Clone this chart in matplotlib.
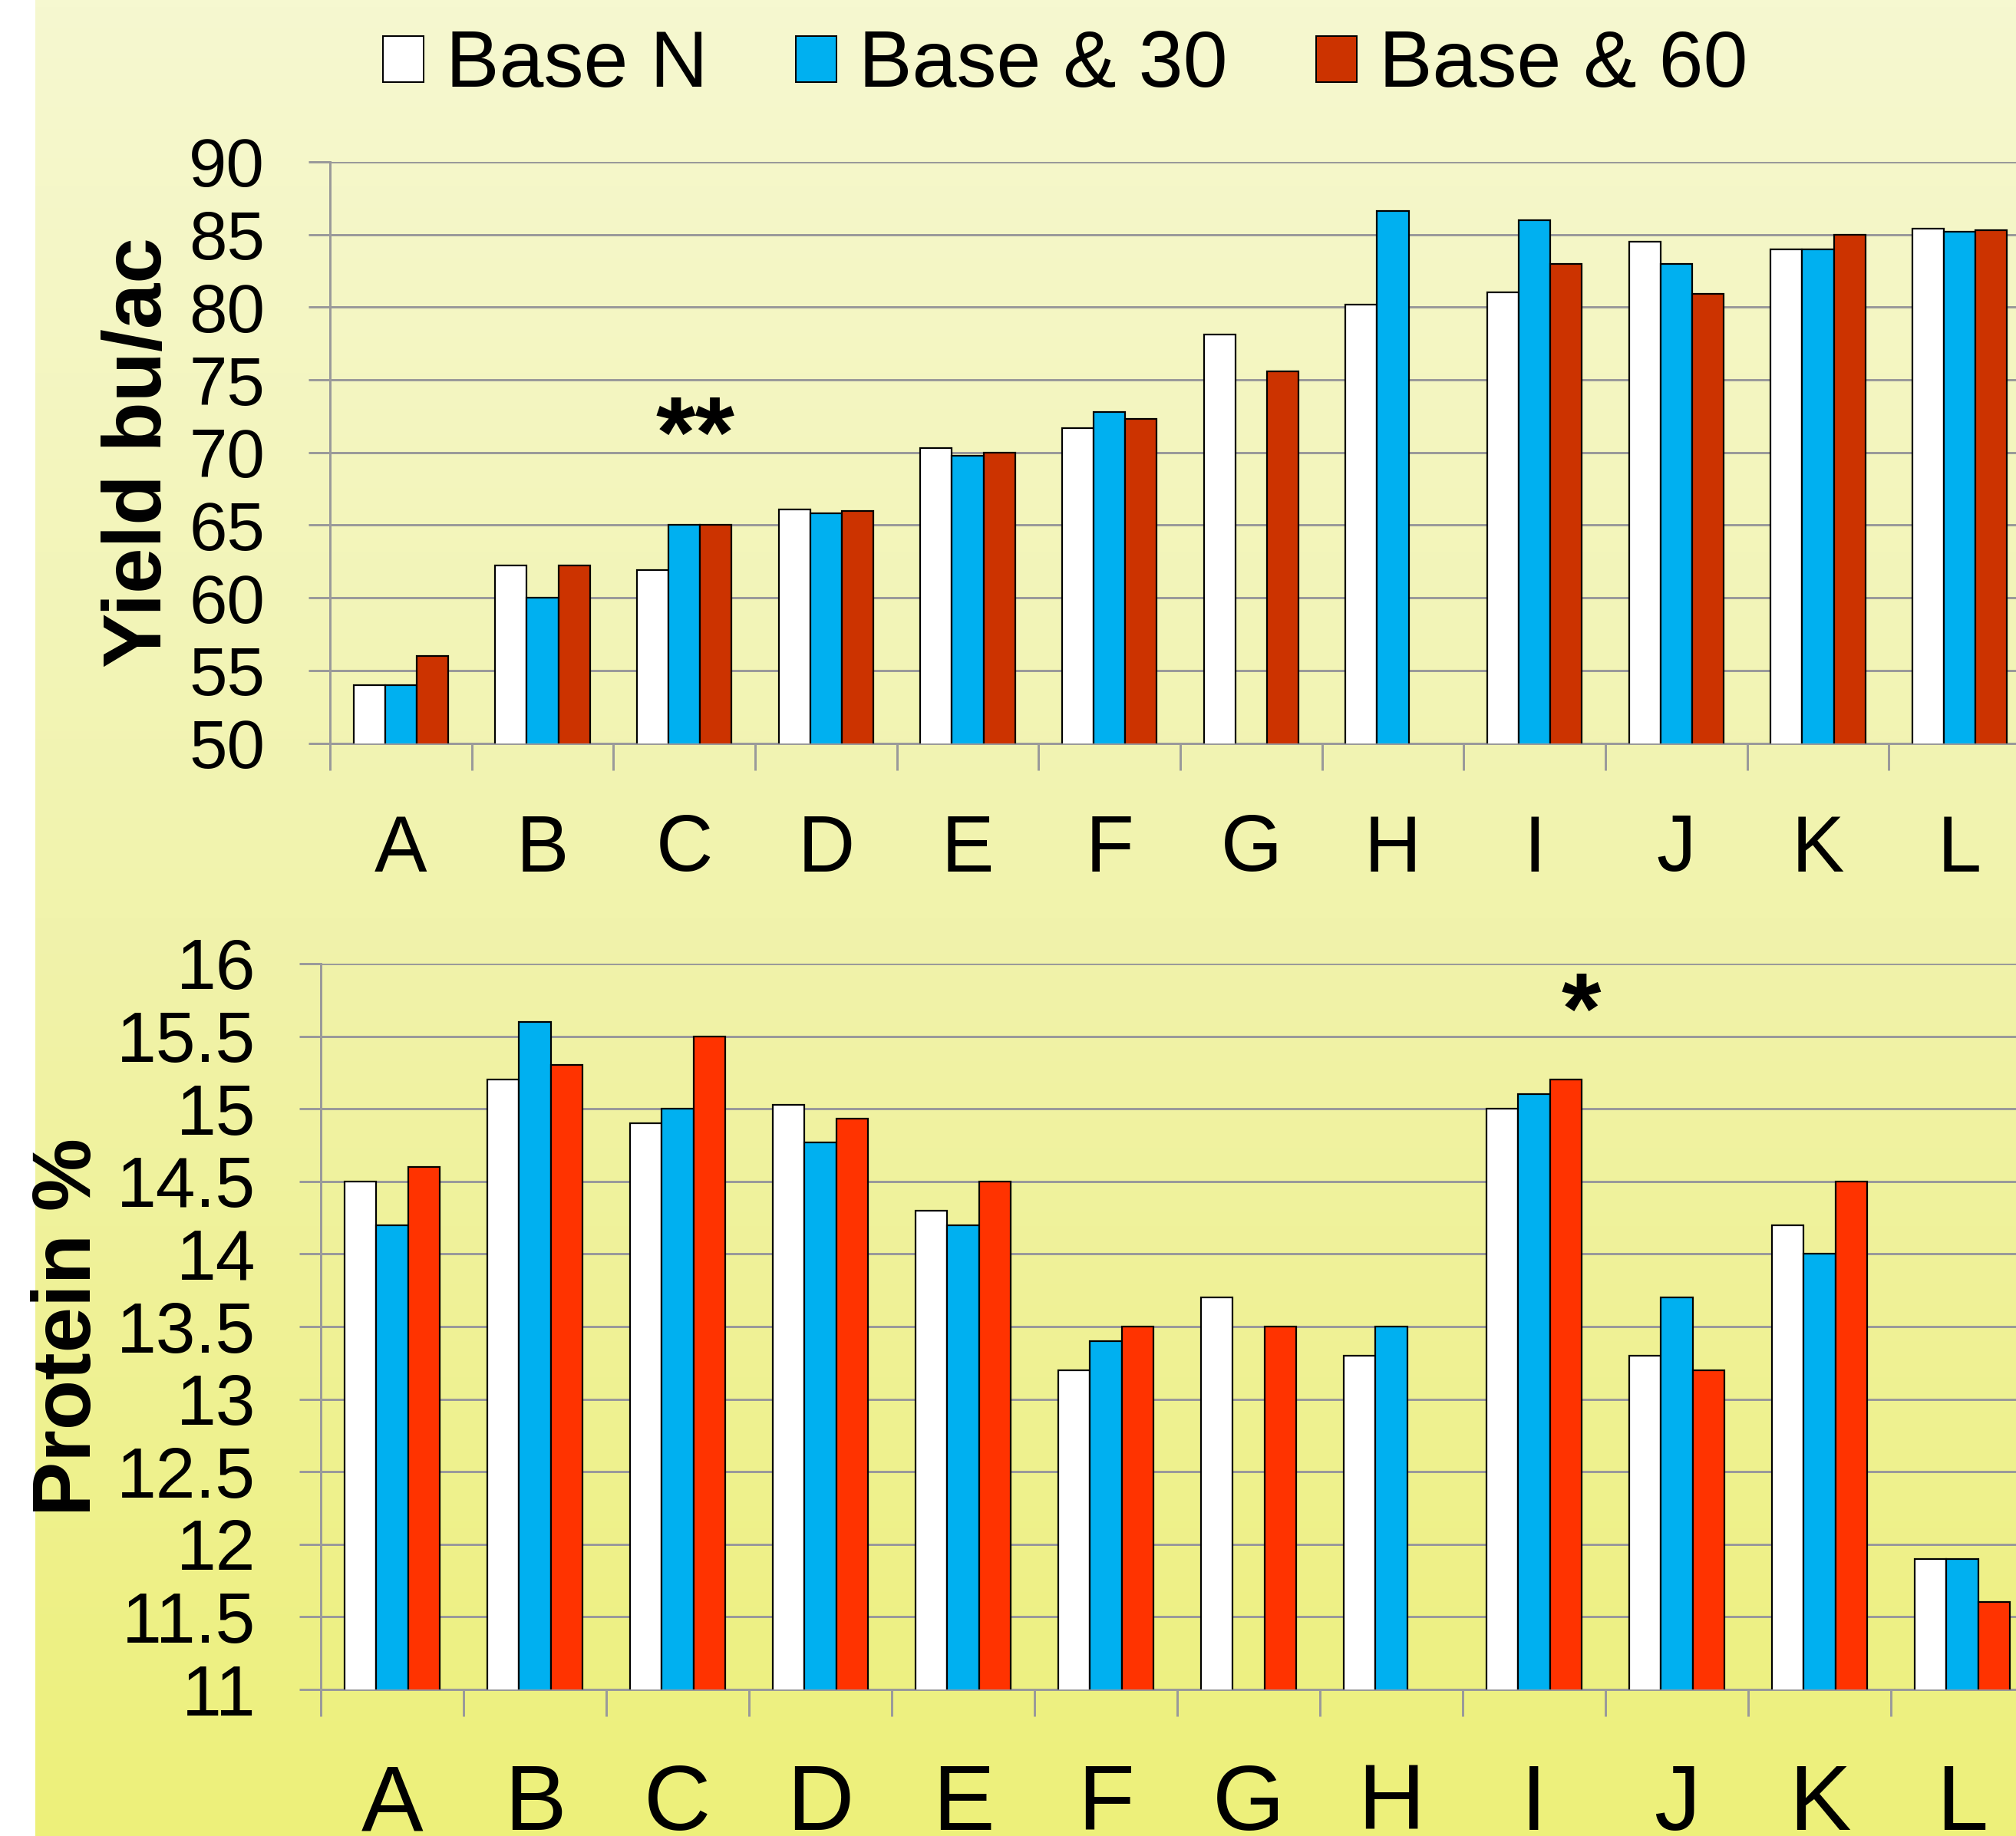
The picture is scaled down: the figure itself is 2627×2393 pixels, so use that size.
import numpy as np
import matplotlib
matplotlib.use("Agg")
import matplotlib.pyplot as plt
from matplotlib.patches import Patch
from matplotlib.colors import LinearSegmentedColormap

categories = ["A", "B", "C", "D", "E", "F", "G", "H", "I", "J", "K", "L"]
series_names = ["Base N", "Base & 30", "Base & 60"]

yield_base = [54, 62.2, 61.9, 66.1, 70.3, 71.7, 78.1, 80.2, 81.0, 84.5, 84.0, 85.4]
yield_30 = [54, 60.0, 65.0, 65.8, 69.8, 72.8, np.nan, 86.6, 86.0, 83.0, 84.0, 85.2]
yield_60 = [56, 62.2, 65.0, 66.0, 70.0, 72.3, 75.6, np.nan, 83.0, 80.9, 85.0, 85.3]

protein_base = [14.5, 15.2, 14.9, 15.03, 14.3, 13.2, 13.7, 13.3, 15.0, 13.3, 14.2, 11.9]
protein_30 = [14.2, 15.6, 15.0, 14.77, 14.2, 13.4, np.nan, 13.5, 15.1, 13.7, 14.0, 11.9]
protein_60 = [14.6, 15.3, 15.5, 14.93, 14.5, 13.5, 13.5, np.nan, 15.2, 13.2, 14.5, 11.6]

yield_ticks = [50, 55, 60, 65, 70, 75, 80, 85, 90]
protein_ticks = [11, 11.5, 12, 12.5, 13, 13.5, 14, 14.5, 15, 15.5, 16]
protein_tick_labels = ["11", "11.5", "12", "12.5", "13", "13.5", "14", "14.5", "15", "15.5", "16"]

W, H = 2627, 2393
DPI = 100
plt.rcParams['font.family'] = ['Liberation Sans', 'DejaVu Sans']

fig = plt.figure(figsize=(W / DPI, H / DPI), dpi=DPI)
fig.patch.set_facecolor("white")

# background gradient
bg = fig.add_axes([46 / W, 0, 1 - 46 / W, 1], zorder=-10)
cmap = LinearSegmentedColormap.from_list("bg", ["#F6F8D0", "#F1F3AC", "#EDF07A"])
grad = np.linspace(0, 1, 256).reshape(-1, 1)
bg.imshow(grad, aspect="auto", cmap=cmap, extent=[0, 1, 0, 1], origin="upper")
bg.set_axis_off()

GRID = "#9A9A9A"
px = 72 / DPI  # points per pixel


def make_panel(rect, vals, colors, ylim, yticks, yticklabels, ytick_size, ytick_pad,
               xlab_size, xlab_pad):
    ax = fig.add_axes(rect)
    ax.set_facecolor("none")
    x = np.arange(len(categories))
    w = 2 / 3 / 3
    for k, (v, c) in enumerate(zip(vals, colors)):
        ax.bar(x + (k - 1) * w, v, width=w, color=c, edgecolor="black",
               linewidth=2.2 * px, zorder=3)
    ax.set_xlim(-0.5, len(categories) - 0.5)
    ax.set_ylim(*ylim)
    ax.set_yticks(yticks)
    ax.set_yticklabels(yticklabels)
    ax.yaxis.grid(True, color=GRID, linewidth=3 * px, zorder=0)
    ax.tick_params(axis="y", length=28 * px, width=3 * px, color=GRID,
                   labelsize=ytick_size, pad=ytick_pad)
    ax.set_xticks(x)
    ax.set_xticklabels(categories)
    ax.set_xticks(np.arange(-0.5, len(categories) + 0.5, 1), minor=True)
    ax.tick_params(axis="x", which="major", length=0, labelsize=xlab_size, pad=xlab_pad)
    ax.tick_params(axis="x", which="minor", length=35 * px, width=3 * px, color=GRID)
    for s in ["top", "right"]:
        ax.spines[s].set_visible(False)
    for s in ["left", "bottom"]:
        ax.spines[s].set_color(GRID)
        ax.spines[s].set_linewidth(3 * px)
    return ax


ax1 = make_panel([430 / W, 1 - 968.5 / H, 2216 / W, 757.5 / H],
                 [yield_base, yield_30, yield_60],
                 ["#FFFFFF", "#00B0F0", "#CC3300"],
                 (50, 90), yield_ticks, [str(t) for t in yield_ticks],
                 64, 57 * px, 74, 92 * px)
ax2 = make_panel([418 / W, 1 - 2202 / H, 2232 / W, 946 / H],
                 [protein_base, protein_30, protein_60],
                 ["#FFFFFF", "#00B0F0", "#FF3300"],
                 (11, 16), protein_ticks, protein_tick_labels,
                 67, 57 * px, 87, 96 * px)

# significance markers
ax1.text(2.08, 69.0, "**", ha="center", va="baseline", fontsize=95, fontweight="bold")
ax2.text(8.33, 15.45, "*", ha="center", va="baseline", fontsize=95, fontweight="bold")

# axis titles
fig.text(210 / W, 1 - 590 / H, "Yield bu/ac", rotation=90, rotation_mode="anchor",
         ha="center", va="baseline", fontsize=77, fontweight="bold")
fig.text(118 / W, 1 - 1729 / H, "Protein %", rotation=90, rotation_mode="anchor",
         ha="center", va="baseline", fontsize=77, fontweight="bold")

# legend
handles = [Patch(facecolor=c, edgecolor="black", linewidth=2 * px)
           for c in ["#FFFFFF", "#00B0F0", "#CC3300"]]
fig.legend(handles, series_names, loc="center", bbox_to_anchor=(1388 / W, 1 - 87 / H),
           ncol=3, frameon=False, fontsize=75, handlelength=0.51, handleheight=0.51,
           handletextpad=0.28, columnspacing=1.1, borderpad=0, borderaxespad=0)

fig.savefig("out.png", dpi=DPI)
